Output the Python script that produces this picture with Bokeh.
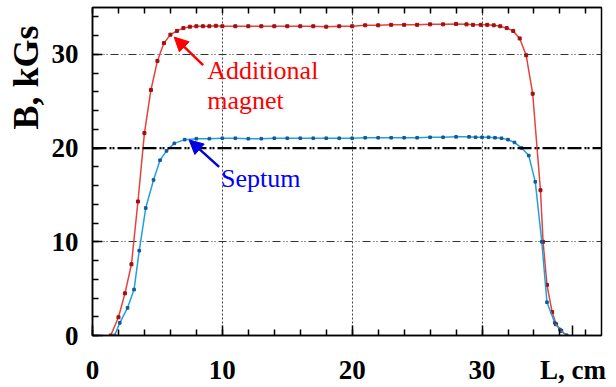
import math
from bokeh.plotting import figure
from bokeh.models import (FixedTicker, LinearAxis, Span, Label, Arrow, NormalHead,
                          Range1d, ColumnDataSource, Title)
from bokeh.embed import file_html
from bokeh.resources import INLINE

# ---- data ----
red_L = [1.4, 2.0, 2.5, 3.0, 3.5, 4.0, 4.5, 5.0, 5.5, 6.0, 6.5, 7.0, 7.5, 8.0, 8.5, 9.0,
         9.5, 10, 11, 12, 13, 14, 15, 16, 17, 18, 19, 20, 21, 22, 23, 24, 25, 26, 27,
         28, 28.8, 29.3, 29.9, 30.4, 30.9, 31.4, 31.9, 32.4, 32.9, 33.4, 33.9, 34.5,
         34.7, 35.0, 35.4, 35.7, 36.1, 36.5]
red_B = [0, 1.95, 4.5, 7.6, 14.3, 21.6, 26.2, 29.3, 31.2, 32.1, 32.5, 32.8, 32.95, 33.0,
         33.0, 33.0, 33.05, 33.0, 33.0, 33.0, 33.0, 33.0, 33.0, 33.0, 33.0, 32.95, 33.0,
         33.0, 33.1, 33.1, 33.15, 33.15, 33.15, 33.2, 33.2, 33.25, 33.2, 33.15, 33.15,
         33.15, 33.1, 33.0, 32.8, 32.5, 31.7, 29.9, 25.8, 15.5, 10.0, 5.4, 2.5, 1.2,
         0.5, 0]

blue_L = [1.7, 2.1, 2.7, 3.2, 3.6, 4.1, 4.7, 5.2, 5.7, 6.3, 7.1, 8, 9, 10, 11, 12, 13,
          14, 15, 16, 17, 18, 19, 20, 21, 22, 23, 24, 25, 26, 27, 28, 29, 29.5, 30,
          30.5, 31, 31.5, 32, 32.5, 33.05, 33.6, 34.1, 34.6, 35.0, 35.6, 36.0, 36.5]
blue_B = [0, 1.35, 2.95, 4.9, 9.05, 13.6, 16.6, 18.7, 19.7, 20.5, 20.9, 21.0, 21.0,
          21.05, 21.05, 21.0, 21.0, 21.05, 21.05, 21.05, 21.05, 21.05, 21.05, 21.05,
          21.1, 21.1, 21.1, 21.1, 21.1, 21.15, 21.15, 21.2, 21.2, 21.15, 21.15, 21.15,
          21.1, 21.05, 20.9, 20.6, 20.0, 19.2, 16.4, 10.0, 3.55, 1.35, 0.64, 0]

x_major = [0, 10, 20, 30]
y_major = [0, 10, 20, 30]
x_minor = list(range(0, 40, 2))
y_minor = list(range(0, 36, 2))

x_title = "L, cm"
x_title_pos = 37
y_title = "B, kGs"

SERIF = "Liberation Serif"

p = figure(width=616, height=387, output_backend="svg", toolbar_location=None,
           x_range=Range1d(0, 39.2), y_range=Range1d(0, 35),
           min_border_left=91, min_border_right=15, min_border_top=7,
           min_border_bottom=51)
p.background_fill_color = "white"
p.border_fill_color = "white"
p.outline_line_color = "black"
p.outline_line_width = 1.5

for ax, maj, mnr in ((p.xaxis[0], x_major, x_minor), (p.yaxis[0], y_major, y_minor)):
    ax.ticker = FixedTicker(ticks=maj, minor_ticks=mnr)
    ax.major_tick_in = 10
    ax.major_tick_out = 0
    ax.minor_tick_in = 6
    ax.minor_tick_out = 0
    ax.axis_line_width = 1.5
    ax.major_tick_line_width = 1.5
    ax.minor_tick_line_width = 1.5
    ax.major_label_text_font = SERIF
    ax.major_label_text_font_style = "bold"
    ax.major_label_text_font_size = "27px"
    ax.major_label_text_color = "black"

# the x-axis title sits on the tick-label line at the right end of the axis
xa = p.xaxis[0]
xa.ticker = FixedTicker(ticks=x_major + [x_title_pos], minor_ticks=x_minor)
xa.major_label_overrides = {x_title_pos: x_title}
xa.major_label_standoff = 19
p.yaxis[0].major_label_standoff = 14

top_ax = LinearAxis(ticker=FixedTicker(ticks=[], minor_ticks=x_minor),
                    major_tick_in=0, major_tick_out=0, minor_tick_in=6, minor_tick_out=0,
                    major_label_standoff=0, axis_line_width=1.5,
                    minor_tick_line_width=1.5)
p.add_layout(top_ax, "above")

yt = Title(text=y_title, align="right", offset=18, text_font=SERIF,
           text_font_style="bold", text_font_size="36px", text_color="black",
           standoff=6)
p.add_layout(yt, "left")

# grids
p.xgrid.ticker = FixedTicker(ticks=[10, 20, 30])
p.xgrid.grid_line_color = "#444444"
p.xgrid.grid_line_dash = "2 2"
p.xgrid.grid_line_width = 1
p.ygrid.ticker = FixedTicker(ticks=[10, 30])
p.ygrid.grid_line_color = "#333333"
p.ygrid.grid_line_dash = "8 3 1 2 1 3"
p.ygrid.grid_line_width = 1.2
p.add_layout(Span(location=20, dimension="width", line_color="black", line_width=2.2,
                  line_dash="14 3 2 1 2 3"))

# curves
red = ColumnDataSource(dict(x=red_L, y=red_B))
blue = ColumnDataSource(dict(x=blue_L, y=blue_B))
p.line("x", "y", source=red, line_color="#e8413c", line_width=1.5)
p.scatter("x", "y", source=red, marker="square", size=3, fill_color="#a01010",
          line_color="#a01010")
p.line("x", "y", source=blue, line_color="#22a0dc", line_width=1.5)
p.scatter("x", "y", source=blue, marker="square", size=2.6, fill_color="#105a9a",
          line_color="#105a9a")

# annotations
p.add_layout(Arrow(end=NormalHead(size=14, fill_color="#ff0000", line_color="#ff0000"),
                   x_start=8.52, y_start=28.86, x_end=6.29, y_end=31.84,
                   line_color="#ff0000", line_width=2.5))
p.add_layout(Arrow(end=NormalHead(size=14, fill_color="#0000e0", line_color="#0000e0"),
                   x_start=9.75, y_start=18.0, x_end=7.44, y_end=20.87,
                   line_color="#0000e0", line_width=2.5))

for txt, x, y, col in (("Additional", 8.83, 28.3, "#ff0000"),
                       ("magnet", 8.83, 25.1, "#ff0000"),
                       ("Septum", 9.9, 16.8, "#0000ff")):
    p.add_layout(Label(x=x, y=y, text=txt, text_font=SERIF, text_font_size="26px",
                       text_color=col, text_baseline="alphabetic", text_align="left"))

open("out.html", "w").write(file_html(p, INLINE))
